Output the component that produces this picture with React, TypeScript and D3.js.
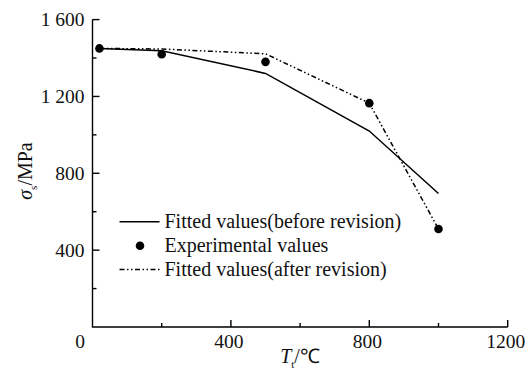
import React from "react";
import * as d3 from "d3";

const temps = [20, 200, 500, 800, 1000];
const experimental = [1450, 1420, 1380, 1165, 510];
const fittedBefore = [1450, 1438, 1320, 1020, 695];
const fittedAfter = [1450, 1447, 1422, 1165, 510];

const xMajorTicks = [400, 800, 1200];
const xTickLabels = ["400", "800", "1200"];
const xMinorTicks = [200, 600, 1000];
const yMajorTicks = [400, 800, 1200, 1600];
const yTickLabels = ["400", "800", "1 200", "1 600"];
const yMinorTicks = [200, 600, 1000, 1400];

const legendLabels = [
  "Fitted values(before revision)",
  "Experimental values",
  "Fitted values(after revision)",
];

const W = 530;
const H = 383;
const FONT = '"Liberation Serif"';

export default function App() {
  const x = d3.scaleLinear().domain([0, 1200]).range([92.5, 507.7]);
  const y = d3.scaleLinear().domain([0, 1600]).range([327, 19.6]);

  const line = d3
    .line<number>()
    .x((_, i) => x(temps[i]))
    .y((d) => y(d));

  const axisW = 1.4;
  const legX = 119.5;
  const legRows = [221.7, 245.7, 269.5];
  const fs = 19.5;
  const ts = { fontFamily: FONT };

  return (
    <svg width={W} height={H} style={{ position: "absolute", left: 0, top: 0, background: "#fff" }}>
      <rect x={0} y={0} width={W} height={H} fill="#fff" />
      <path
        d={`M${x(0)},${y(1600)}V${y(0)}H${x(1200)}`}
        fill="none"
        stroke="#000"
        strokeWidth={axisW}
      />
      {yMajorTicks.map((t) => (
        <line key={"ym" + t} x1={x(0)} x2={x(0) + 7} y1={y(t)} y2={y(t)} stroke="#000" strokeWidth={axisW} />
      ))}
      {yMinorTicks.map((t) => (
        <line key={"yn" + t} x1={x(0)} x2={x(0) + 4} y1={y(t)} y2={y(t)} stroke="#000" strokeWidth={axisW} />
      ))}
      {xMajorTicks.map((t) => (
        <line key={"xm" + t} x1={x(t)} x2={x(t)} y1={y(0)} y2={y(0) - 7} stroke="#000" strokeWidth={axisW} />
      ))}
      {xMinorTicks.map((t) => (
        <line key={"xn" + t} x1={x(t)} x2={x(t)} y1={y(0)} y2={y(0) - 4} stroke="#000" strokeWidth={axisW} />
      ))}
      {yMajorTicks.map((t, i) => (
        <text key={"yl" + t} x={84.5} y={y(t) + 6.5} fontSize={fs} textAnchor="end" fill="#111" style={ts}>
          {yTickLabels[i]}
        </text>
      ))}
      {xMajorTicks.map((t, i) => (
        <text key={"xl" + t} x={x(t) - 2} y={348} fontSize={fs} textAnchor="middle" fill="#111" style={ts}>
          {xTickLabels[i]}
        </text>
      ))}
      <text x={80} y={348} fontSize={fs} textAnchor="middle" fill="#111" style={ts}>
        0
      </text>
      <text
        transform={`translate(32,${171}) rotate(-90)`}
        fontSize={20}
        textAnchor="middle"
        fill="#111"
        style={ts}
      >
        <tspan fontStyle="italic">σ</tspan>
        <tspan fontSize={11} dy={5}>s</tspan>
        <tspan dy={-5}>/MPa</tspan>
      </text>
      <text x={300} y={363} fontSize={20} textAnchor="middle" fill="#111" style={ts}>
        <tspan fontStyle="italic">T</tspan>
        <tspan fontSize={11} dy={5}>t</tspan>
        <tspan dy={-5}>/℃</tspan>
      </text>
      <path d={line(fittedBefore) || ""} fill="none" stroke="#000" strokeWidth={1.5} />
      <path
        d={line(fittedAfter) || ""}
        fill="none"
        stroke="#000"
        strokeWidth={1.5}
        strokeDasharray="5,2.5,1.5,2.5,1.5,2.5"
      />
      {experimental.map((v, i) => (
        <circle key={"pt" + i} cx={x(temps[i])} cy={y(v)} r={4.3} fill="#000" />
      ))}
      <line x1={legX} x2={legX + 40} y1={legRows[0]} y2={legRows[0]} stroke="#000" strokeWidth={1.5} />
      <circle cx={legX + 20.5} cy={legRows[1]} r={4.3} fill="#000" />
      <line
        x1={legX}
        x2={legX + 40}
        y1={legRows[2]}
        y2={legRows[2]}
        stroke="#000"
        strokeWidth={1.5}
        strokeDasharray="5,2.5,1.5,2.5,1.5,2.5"
      />
      {legendLabels.map((l, i) => (
        <text key={l} x={164.5} y={legRows[i] + 6.5} fontSize={20} fill="#111" style={ts}>
          {l}
        </text>
      ))}
    </svg>
  );
}
